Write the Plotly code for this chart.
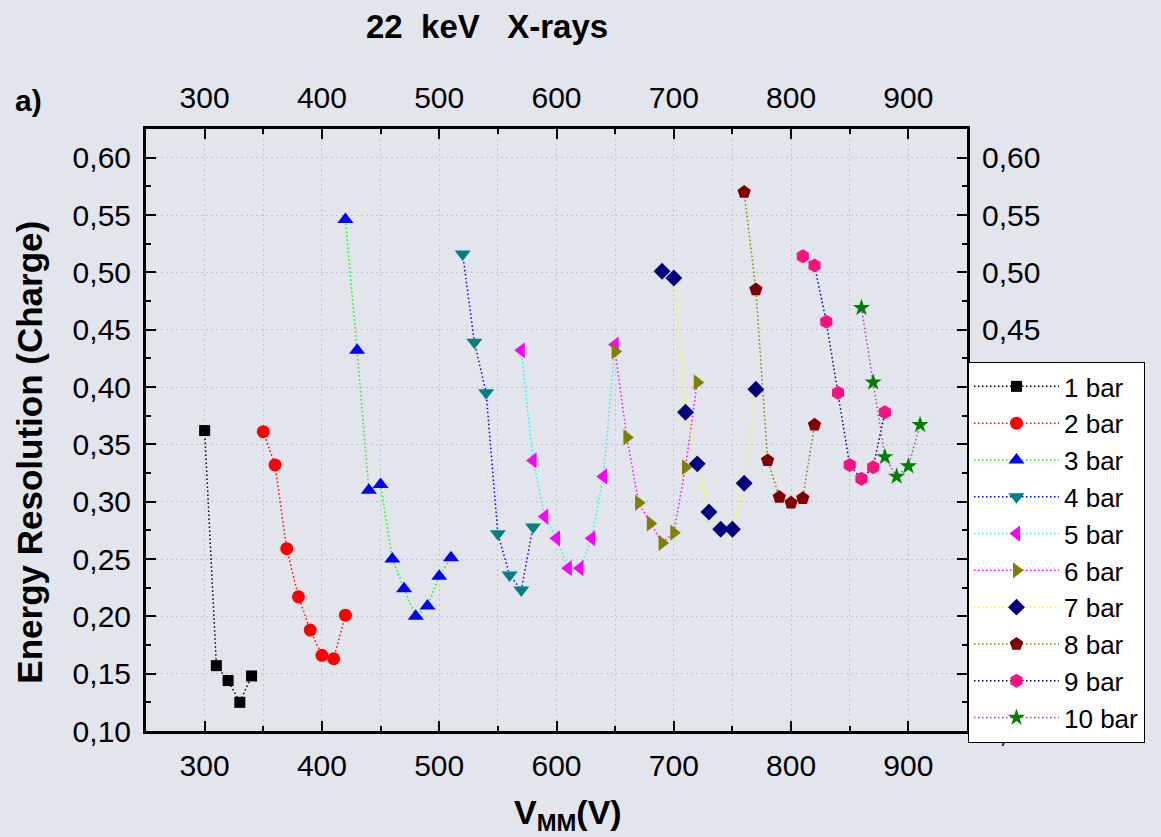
import plotly.graph_objects as go

# ---- data ----
x1 = [300, 310, 320, 330, 340]
y1 = [0.362, 0.157, 0.144, 0.125, 0.148]
x2 = [350, 360, 370, 380, 390, 400, 410, 420]
y2 = [0.361, 0.332, 0.259, 0.217, 0.188, 0.166, 0.163, 0.201]
x3 = [420, 430, 440, 450, 460, 470, 480, 490, 500, 510]
y3 = [0.546, 0.432, 0.310, 0.315, 0.250, 0.224, 0.200, 0.209, 0.235, 0.251]
x4 = [520, 530, 540, 550, 560, 570, 580]
y4 = [0.516, 0.439, 0.395, 0.272, 0.236, 0.223, 0.278]
x5 = [570, 580, 590, 600, 610, 620, 630, 640, 650]
y5 = [0.432, 0.336, 0.287, 0.268, 0.242, 0.242, 0.268, 0.322, 0.437]
x6 = [650, 660, 670, 680, 690, 700, 710, 720]
y6 = [0.431, 0.356, 0.299, 0.281, 0.264, 0.273, 0.330, 0.404]
x7 = [690, 700, 710, 720, 730, 740, 750, 760, 770]
y7 = [0.501, 0.495, 0.378, 0.333, 0.291, 0.276, 0.276, 0.316, 0.398]
x8 = [760, 770, 780, 790, 800, 810, 820]
y8 = [0.570, 0.485, 0.336, 0.304, 0.299, 0.303, 0.367]
x9 = [810, 820, 830, 840, 850, 860, 870, 880]
y9 = [0.514, 0.506, 0.457, 0.395, 0.332, 0.320, 0.330, 0.378]
x10 = [860, 870, 880, 890, 900, 910]
y10 = [0.469, 0.404, 0.339, 0.322, 0.331, 0.367]

names = ["1 bar", "2 bar", "3 bar", "4 bar", "5 bar", "6 bar", "7 bar", "8 bar", "9 bar", "10 bar"]
xs = [x1, x2, x3, x4, x5, x6, x7, x8, x9, x10]
ys = [y1, y2, y3, y4, y5, y6, y7, y8, y9, y10]

line_colors = ["#000000", "#FF0000", "#00FF00", "#0000FF", "#00FFFF",
               "#FF00FF", "#FFFF00", "#808000", "#000080", "#B040B0"]
marker_colors = ["#000000", "#FF0000", "#0000FF", "#008080", "#FF00FF",
                 "#808000", "#000080", "#800000", "#FF1080", "#008000"]
symbols = ["square", "circle", "triangle-up", "triangle-down", "triangle-left",
           "triangle-right", "diamond", "pentagon", "hexagon", "star"]
sizes = [11, 13, 14, 14, 14, 14, 13, 14, 14, 13]

FONT = "Liberation Sans, Arial, sans-serif"
BG = "#E2E5EC"
GRID = "#BFC2C8"

fig = go.Figure()
for n, x, y, lc, mc, sym, sz in zip(names, xs, ys, line_colors, marker_colors, symbols, sizes):
    fig.add_trace(go.Scatter(
        x=x, y=y, name=n, mode="lines+markers",
        line=dict(color=lc, width=1.5, dash="1.5px,2.5px"),
        marker=dict(symbol=sym, size=sz, color=mc, line=dict(width=0)),
    ))

# dummy trace for the top/right axes
fig.add_trace(go.Scatter(x=[None], y=[None], xaxis="x2", yaxis="y2",
                         showlegend=False, hoverinfo="skip"))

common_x = dict(range=[250, 950], tick0=0, dtick=100, ticks="inside", ticklen=10,
                tickwidth=2, tickcolor="black", showline=True, linewidth=3,
                linecolor="black", zeroline=False,
                tickfont=dict(family=FONT, size=30, color="black"))
common_y = dict(range=[0.10, 0.625], tick0=0, dtick=0.05, tickformat=".2f",
                ticks="inside", ticklen=10, tickwidth=2, tickcolor="black",
                showline=True, linewidth=3, linecolor="black", zeroline=False,
                tickfont=dict(family=FONT, size=30, color="black"))

fig.update_layout(
    width=1161, height=837,
    margin=dict(l=146, r=194, t=129, b=106),
    paper_bgcolor=BG, plot_bgcolor=BG,
    separators=", ",
    showlegend=True,
    xaxis=dict(**common_x, side="bottom", showgrid=True, gridcolor=GRID,
               griddash="2px,3px", gridwidth=1, ticklabelstandoff=6,
               minor=dict(tick0=0, dtick=50, ticks="inside", ticklen=5, tickwidth=2,
                          tickcolor="black", showgrid=True, gridcolor=GRID,
                          griddash="2px,3px", gridwidth=1)),
    xaxis2=dict(**common_x, side="top", overlaying="x", anchor="y2", showgrid=False,
                ticklabelstandoff=6,
                minor=dict(tick0=0, dtick=50, ticks="inside", ticklen=5, tickwidth=2,
                           tickcolor="black", showgrid=False)),
    yaxis=dict(**common_y, side="left", showgrid=True, gridcolor=GRID,
               griddash="2px,3px", gridwidth=1, ticklabelstandoff=6,
               minor=dict(tick0=0, dtick=0.025, ticks="inside", ticklen=5, tickwidth=2,
                          tickcolor="black", showgrid=False)),
    yaxis2=dict(**common_y, side="right", overlaying="y", anchor="x2", showgrid=False,
                ticklabelstandoff=6,
                minor=dict(tick0=0, dtick=0.025, ticks="inside", ticklen=5, tickwidth=2,
                           tickcolor="black", showgrid=False)),
    legend=dict(x=1.0012, y=0.613, xanchor="left", yanchor="top",
                bgcolor="white", bordercolor="black", borderwidth=1,
                font=dict(family=FONT, size=26, color="black"),
                itemwidth=85, tracegroupgap=0),
    annotations=[
        dict(text="<b>22\u00a0\u00a0keV\u00a0\u00a0\u00a0X-rays</b>", x=0.4153, y=1.171,
             xref="paper", yref="paper", xanchor="center", yanchor="middle",
             showarrow=False, font=dict(family=FONT, size=33, color="black")),
        dict(text="<b>a)</b>", x=-0.1437, y=1.048, xref="paper", yref="paper",
             xanchor="center", yanchor="middle", showarrow=False,
             font=dict(family=FONT, size=30, color="black")),
        dict(text="<b>V<sub>MM</sub>(V)</b>", x=0.514, y=-0.1395,
             xref="paper", yref="paper", xanchor="center", yanchor="middle",
             showarrow=False, font=dict(family=FONT, size=34, color="black")),
        dict(text="<b>Energy Resolution (Charge)</b>", x=-0.1413, y=0.464,
             xref="paper", yref="paper", xanchor="center", yanchor="middle",
             textangle=-90, showarrow=False,
             font=dict(family=FONT, size=35, color="black")),
    ],
)

fig.write_html("out.html")
